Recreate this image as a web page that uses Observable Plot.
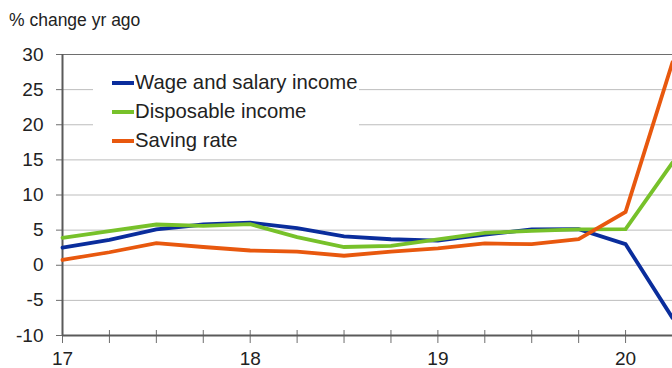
<!DOCTYPE html>
<html>
<head>
<meta charset="utf-8">
<script src="https://cdn.jsdelivr.net/npm/d3@7"></script>
<script src="https://cdn.jsdelivr.net/npm/@observablehq/plot@0.6"></script>
<style>
  html, body { margin: 0; padding: 0; background: #fff; }
  #wrap { position: relative; width: 672px; height: 368px; font-family: "Liberation Sans", Arial, sans-serif; color: #222; }
  #title { height: 40px; box-sizing: border-box; padding-top: 11px; padding-left: 9px; font-size: 17.5px; line-height: 18px; }
  #legend { position: absolute; left: 93px; top: 68px; width: 266px; background: #fff; padding-left: 19px; box-sizing: border-box; }
  .row { height: 29px; display: flex; align-items: center; font-size: 20.3px; white-space: nowrap; }
  .sw { width: 22px; height: 4px; margin-right: 1px; flex: none; }
</style>
</head>
<body>
<div id="wrap">
  <div id="title">% change yr ago</div>
  <div id="chart"></div>
  <div id="legend"></div>
</div>
<script>
const quarters = [17, 17.25, 17.5, 17.75, 18, 18.25, 18.5, 18.75, 19, 19.25, 19.5, 19.75, 20, 20.25];
const wage       = [2.5, 3.6, 5.1, 5.8, 6.05, 5.3, 4.1, 3.7, 3.5, 4.35, 5.1, 5.15, 3.0, -7.5];
const disposable = [3.9, 4.85, 5.8, 5.6, 5.85, 4.0, 2.6, 2.75, 3.7, 4.6, 4.9, 5.1, 5.15, 14.6];
const saving     = [0.75, 1.85, 3.15, 2.6, 2.1, 1.95, 1.35, 1.95, 2.4, 3.1, 3.0, 3.7, 7.6, 28.9];
const seriesNames = ["Wage and salary income", "Disposable income", "Saving rate"];
const seriesColors = ["#0a2d9c", "#77c12a", "#e8580e"];
const yTicks = [-10, -5, 0, 5, 10, 15, 20, 25, 30];
const yearTicks = [17, 18, 19, 20];
const yearLabels = ["17", "18", "19", "20"];

const seriesValues = [wage, disposable, saving];
const rows = [];
seriesNames.forEach((name, s) => {
  quarters.forEach((q, i) => rows.push({series: name, x: q, y: seriesValues[s][i]}));
});

const chart = Plot.plot({
  width: 672,
  height: 328,
  marginTop: 14,
  marginBottom: 33,
  marginLeft: 62,
  marginRight: 0,
  style: {fontFamily: "'Liberation Sans', Arial, sans-serif", fontSize: "19px", color: "#222", background: "#fff", overflow: "visible"},
  x: {domain: [17, 20.25], label: null},
  y: {domain: [-10, 30], label: null},
  color: {domain: seriesNames, range: seriesColors},
  marks: [
    Plot.gridY(yTicks, {stroke: "#bdbdbd", strokeOpacity: 1}),
    Plot.ruleY([yTicks[yTicks.length - 1]], {stroke: "#6e6e6e"}),
    Plot.axisY(yTicks, {tickSize: 6, tickPadding: 13, stroke: "#6e6e6e", label: null, tickFormat: d => String(d)}),
    Plot.tickX(quarters, {x: d => d, stroke: "#6e6e6e", insetTop: 276, insetBottom: -8}),
    Plot.axisX(yearTicks, {tickSize: 0, tickPadding: 16, label: null, tickFormat: (d, i) => yearLabels[i]}),
    Plot.ruleX([17], {stroke: "#5a5a5a", strokeWidth: 2}),
    Plot.ruleY([-10], {stroke: "#5a5a5a", strokeWidth: 2}),
    Plot.line(rows, {x: "x", y: "y", z: "series", stroke: "series", strokeWidth: 3.8, strokeLinejoin: "miter", strokeMiterlimit: 2})
  ]
});
document.getElementById("chart").appendChild(chart);

const legend = document.getElementById("legend");
seriesNames.forEach((name, i) => {
  const r = document.createElement("div");
  r.className = "row";
  const sw = document.createElement("div");
  sw.className = "sw";
  sw.style.background = seriesColors[i];
  const t = document.createElement("span");
  t.textContent = name;
  r.appendChild(sw);
  r.appendChild(t);
  legend.appendChild(r);
});
</script>
</body>
</html>
